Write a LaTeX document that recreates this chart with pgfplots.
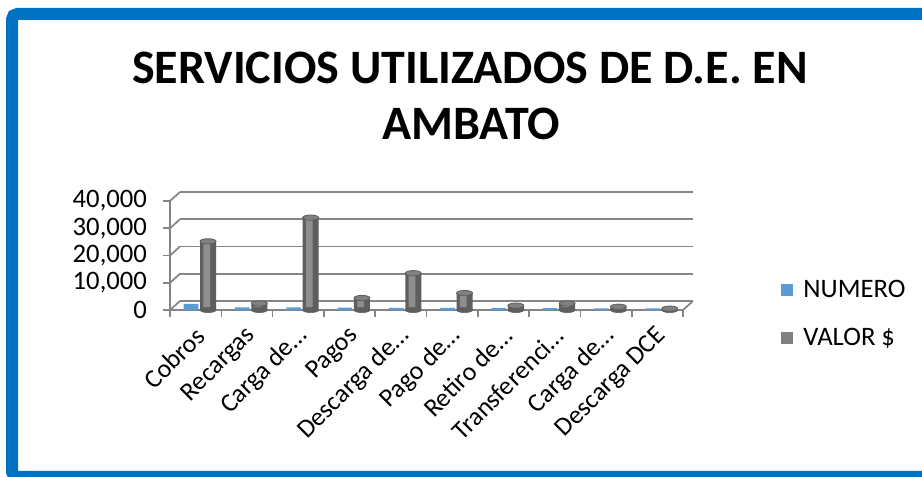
\documentclass[border=0pt]{standalone}
\usepackage{fontspec}
\setmainfont{Carlito}
\usepackage{pgfplots}
\pgfplotsset{compat=1.18}
\usepackage{pgfplotstable}
\definecolor{bordblue}{HTML}{0070C0}
\definecolor{numblue}{HTML}{5B9BD5}
\definecolor{numlight}{HTML}{8DB8E6}
\definecolor{valgray}{HTML}{808080}
\definecolor{valdark}{HTML}{5E5E5E}
\definecolor{valmid}{HTML}{8E8E8E}
\definecolor{gridgray}{HTML}{858585}

\pgfplotstableread{
x numero valor
0 2200 25200
1 1000 2400
2 1000 33900
3 900 4400
4 800 13500
5 800 6200
6 700 1600
7 700 2400
8 600 1200
9 600 500
}\datatable

\begin{document}
\begin{tikzpicture}[x=0.75pt,y=0.75pt]
\clip (0,0) rectangle (922,477);
\fill[white] (0,0) rectangle (922,477);
\draw[bordblue, line width=9pt, rounded corners=4pt] (12,0) rectangle (930,463);
\node[anchor=base, font=\fontsize{36}{41}\selectfont\bfseries] at (470,393) {SERVICIOS UTILIZADOS DE D.E. EN};
\node[anchor=base, font=\fontsize{36}{41}\selectfont\bfseries] at (471,337) {AMBATO};
\begin{axis}[
  at={(127.5pt,125.25pt)}, anchor=south west, scale only axis,
  width=384.75pt, height=81.75pt,
  xmin=-0.5, xmax=9.5, ymin=0, ymax=40000,
  axis x line*=bottom, axis y line*=left,
  axis line style={draw=gridgray, line width=1.5pt},
  tick align=outside, major tick length=5.25pt,
  tick style={draw=gridgray, line width=1.2pt},
  ytick={0,10000,20000,30000,40000},
  scaled y ticks=false,
  /pgf/number format/.cd, fixed, 1000 sep={,}, assume math mode=true, /pgfplots/.cd,
  ticklabel style={font=\fontsize{20}{24}\selectfont, text=black},
  yticklabel style={xshift=-8.5pt},
  xtick={-0.5,0.5,...,9.5}, xticklabels={},
  extra x ticks={0,1,2,3,4,5,6,7,8,9},
  extra x tick labels={Cobros,Recargas,Carga de…,Pagos,Descarga de…,Pago de…,Retiro de…,Transferenci…,Carga de…,Descarga DCE},
  extra x tick style={major tick length=0pt, grid=none},
  xticklabel style={font=\fontsize{19.5}{23}\selectfont, xshift=6pt, yshift=-14pt, rotate=45, anchor=east},
  ymajorgrids=true,
  major grid style={draw=gridgray, line width=1.3pt, xshift=7.5pt, yshift=6.75pt},
  clip=false,
  legend style={at={(1.19,0.30)}, anchor=north west, draw=none, fill=none,
    font=\fontsize{20}{24}\selectfont, row sep=17.5pt, column sep=6pt, inner sep=0pt},
  legend cell align=left,
]
% left wall and floor edges
\draw[gridgray, line width=1.3pt] (axis cs:-0.5,0) -- ++(7.5pt,6.75pt);
\draw[gridgray, line width=1.3pt] (axis cs:-0.5,10000) -- ++(7.5pt,6.75pt);
\draw[gridgray, line width=1.3pt] (axis cs:-0.5,20000) -- ++(7.5pt,6.75pt);
\draw[gridgray, line width=1.3pt] (axis cs:-0.5,30000) -- ++(7.5pt,6.75pt);
\draw[gridgray, line width=1.3pt] (axis cs:-0.5,40000) -- ++(7.5pt,6.75pt);
\draw[gridgray, line width=1.3pt] (axis cs:9.5,0) -- ++(7.5pt,6.75pt);
% NUMERO
\addplot[ybar, bar width=11pt, bar shift=-3.5pt, fill=numblue, draw=none,
  legend image code/.code={\fill[numblue] (0pt,-4.5pt) rectangle (9pt,4.5pt);}]
  table[x=x, y=numero] {\datatable};
\addlegendentry{NUMERO}
% VALOR bottom ellipses
\addplot[forget plot, only marks, mark=*, mark size=6pt,
  mark options={yscale=0.33, fill=valdark, draw=valdark}]
  table[x expr=\thisrow{x}+0.2417, y expr=0] {\datatable};
% VALOR cylinders (dark body)
\addplot[ybar, bar width=12pt, bar shift=9.3pt, draw=none, fill=valdark,
  legend image code/.code={\fill[valgray] (0pt,-4.5pt) rectangle (9pt,4.5pt);}]
  table[x=x, y=valor] {\datatable};
\addlegendentry{VALOR \$}
% VALOR cylinders (highlight)
\addplot[forget plot, ybar, bar width=5pt, bar shift=8.3pt, draw=none, fill=valmid]
  table[x=x, y=valor] {\datatable};
% VALOR top ellipses
\addplot[forget plot, only marks, mark=*, mark size=6pt,
  mark options={yscale=0.33, fill=valgray, draw=valdark, line width=0.6pt}]
  table[x expr=\thisrow{x}+0.2417, y=valor] {\datatable};
\end{axis}
\end{tikzpicture}
\end{document}
